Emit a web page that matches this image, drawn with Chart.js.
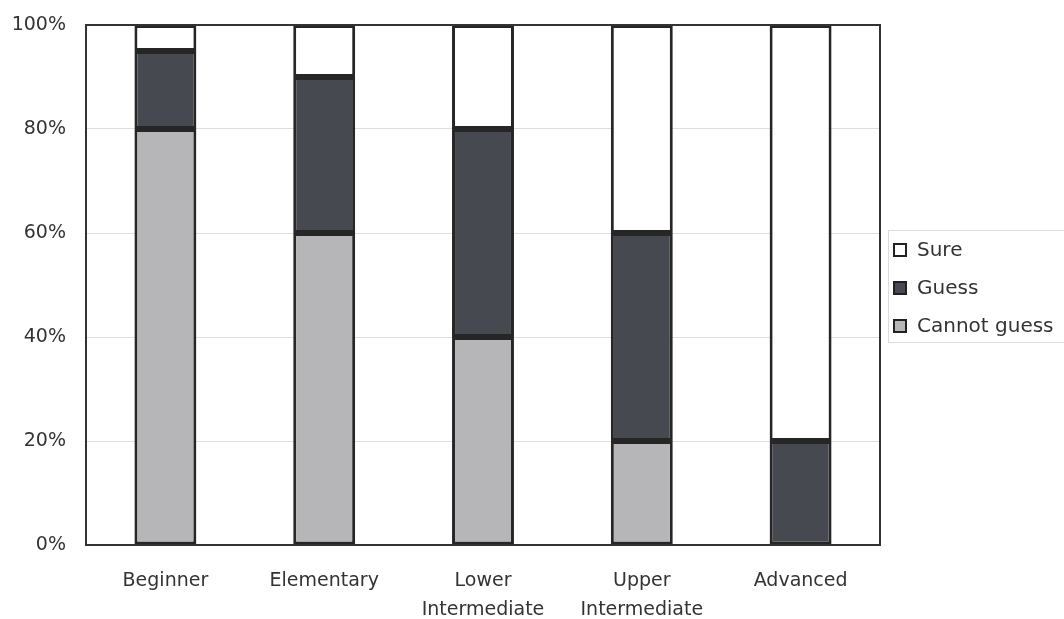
<!DOCTYPE html>
<html><head><meta charset="utf-8">
<script src="https://cdn.jsdelivr.net/npm/chart.js@4/dist/chart.umd.min.js"></script>
<style>html,body{margin:0;padding:0;background:#fff;}#wrap{width:1064px;height:619px;}</style>
</head><body><div id="wrap"><canvas id="c" width="1064" height="619"></canvas></div>
<script>
const categories = [["Beginner"], ["Elementary"], ["Lower", "Intermediate"], ["Upper", "Intermediate"], ["Advanced"]];
const cannotGuess = [80, 60, 40, 20, 0];
const guess = [15, 30, 40, 40, 20];
const sure = [5, 10, 20, 40, 80];
const yTicks = [0, 20, 40, 60, 80, 100];
const seriesNames = ["Sure", "Guess", "Cannot guess"];

const FONT = "'DejaVu Sans', sans-serif";
const colors = {"Sure": "#ffffff", "Guess": "#46494f", "Cannot guess": "#b6b6b8"};
const PLOT_TOP = 25;

const frame = {
  id: 'frame',
  afterLayout(chart) {
    const y = chart.scales.y;
    chart.chartArea.top = PLOT_TOP;
    chart.chartArea.height = chart.chartArea.bottom - PLOT_TOP;
    y.top = PLOT_TOP;
    y.height = y.bottom - PLOT_TOP;
    y.configure();
  },
  afterDatasetsDraw(chart) {
    const {ctx, chartArea: a} = chart;
    ctx.save();
    ctx.strokeStyle = '#333';
    ctx.lineWidth = 2;
    ctx.strokeRect(a.left, a.top, a.right - a.left, a.bottom - a.top);
    ctx.restore();
  },
  afterDraw(chart) {
    const ctx = chart.ctx;
    ctx.save();
    ctx.strokeStyle = '#dcdcdc';
    ctx.lineWidth = 1;
    ctx.strokeRect(888.5, 230.5, 180, 112);
    ctx.font = "20px " + FONT;
    ctx.textBaseline = 'middle';
    ctx.textAlign = 'left';
    seriesNames.forEach((n, i) => {
      const y = 250 + i * 38;
      ctx.fillStyle = colors[n];
      ctx.fillRect(894, y - 6, 12, 12);
      ctx.strokeStyle = '#222';
      ctx.lineWidth = 2;
      ctx.strokeRect(894, y - 6, 12, 12);
      ctx.fillStyle = '#333';
      ctx.fillText(n, 917, y + 1);
    });
    ctx.restore();
  }
};

new Chart(document.getElementById('c'), {
  type: 'bar',
  data: {
    labels: categories,
    datasets: [
      {label: "Cannot guess", data: cannotGuess, backgroundColor: colors["Cannot guess"]},
      {label: "Guess", data: guess, backgroundColor: colors["Guess"]},
      {label: "Sure", data: sure, backgroundColor: colors["Sure"]}
    ].map(d => Object.assign(d, {borderColor: '#262626', borderWidth: 3, borderSkipped: false, barPercentage: 0.39, categoryPercentage: 1}))
  },
  options: {
    responsive: false,
    animation: false,
    layout: {padding: {left: 0, right: 184, top: 25, bottom: 0}},
    plugins: {legend: {display: false}, tooltip: {enabled: false}},
    scales: {
      x: {
        stacked: true,
        grid: {display: false, drawTicks: false},
        border: {display: true, color: '#333', width: 2},
        ticks: {color: '#333', font: {family: FONT, size: 19, lineHeight: 1.5}, padding: 22, maxRotation: 0, autoSkip: false},
        afterFit(s) { s.height = 74; }
      },
      y: {
        stacked: true,
        min: 0, max: 100,
        afterBuildTicks(s) { s.ticks = yTicks.map(v => ({value: v})); },
        grid: {color: '#dedede', lineWidth: 1, drawTicks: false},
        border: {display: true, color: '#333', width: 2},
        ticks: {color: '#333', font: {family: FONT, size: 19}, padding: 20, callback: v => v + '%'},
        afterFit(s) { s.width = 86; }
      }
    }
  },
  plugins: [frame]
});
</script></body></html>
